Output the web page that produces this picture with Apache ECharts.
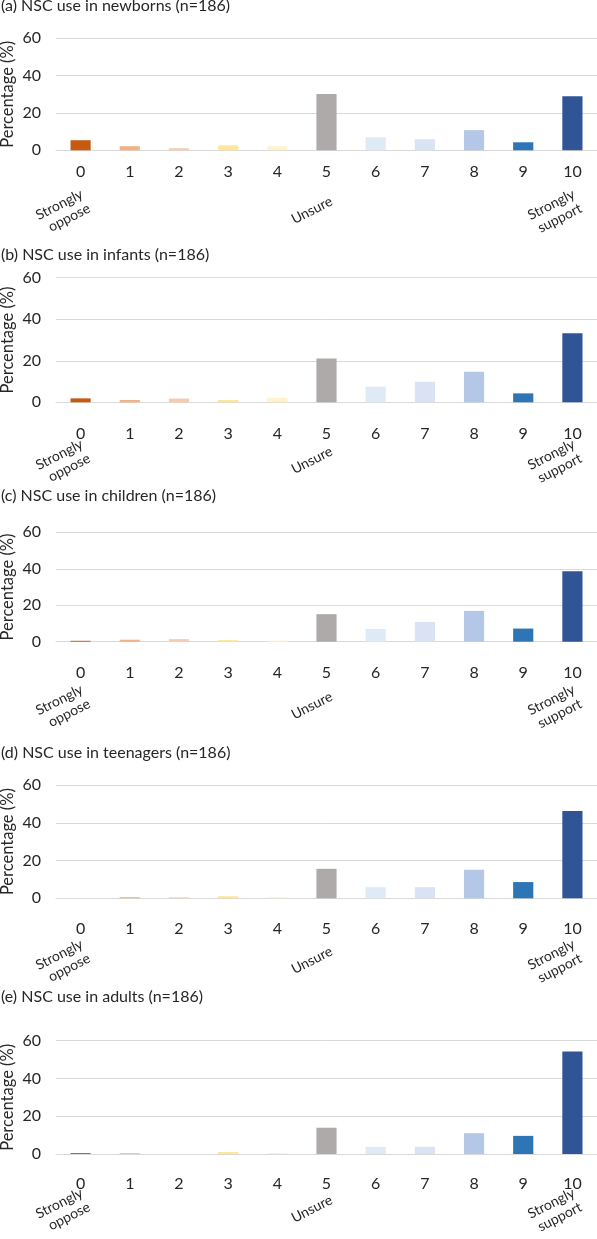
<!DOCTYPE html>
<html>
<head>
<meta charset="utf-8">
<title>NSC use by age group</title>
<script src="https://cdn.jsdelivr.net/npm/echarts@6/dist/echarts.min.js"></script>
<style>
  html, body { margin: 0; padding: 0; background: #fff; }
  #chart { width: 597px; height: 1239px; }
</style>
</head>
<body>
<div id="chart"></div>
<script>
// data (percent of n=186)
var categories = ['0', '1', '2', '3', '4', '5', '6', '7', '8', '9', '10'];
var scaleLabels = ['Strongly\noppose', '', '', '', '', 'Unsure', '', '', '', '', 'Strongly\nsupport'];
var yTicks = [0, 20, 40, 60];

var newborns  = [5.4, 2.2, 1.1, 2.7, 2.2, 30.1, 7.0, 5.9, 10.8, 4.3, 29.0];
var infants   = [1.9, 1.1, 1.8, 1.1, 2.2, 21.1, 7.5, 9.9, 14.7, 4.3, 33.3];
var children  = [0.5, 1.1, 1.4, 0.9, 0.6, 15.1, 7.0, 10.8, 16.9, 7.2, 38.7];
var teenagers = [0, 0.6, 0.5, 1.1, 0.6, 15.6, 5.9, 5.9, 15.1, 8.6, 46.2];
var adults    = [0.5, 0.4, 0, 1.1, 0.5, 13.9, 3.8, 3.8, 11.0, 9.6, 54.3];

var panelTitles = [
    '(a) NSC use in newborns (n=186)',
    '(b) NSC use in infants (n=186)',
    '(c) NSC use in children (n=186)',
    '(d) NSC use in teenagers (n=186)',
    '(e) NSC use in adults (n=186)'
];
var panelData = [newborns, infants, children, teenagers, adults];

// colours per score
var barColors = ['#C55A11', '#F4B183', '#F8CBAD', '#FFE699', '#FFF2CC', '#AEAAAA',
                 '#DEEBF7', '#DAE3F3', '#B4C7E7', '#2E75B6', '#2F5597'];

// layout of each panel
var gridTops     = [38.3, 277.7, 532.3, 785, 1040.7];
var gridHeights  = [112, 124.6, 109.4, 113.3, 113.3];
var titleCenters = [8.3, 256.7, 498.3, 755, 999];
var tickMargins  = [14, 24, 23, 23, 21.5];
var scaleOffsets = [50, 48, 54, 52, 45];   // px below the zero line

var fontFamily = 'Lato, "Open Sans", sans-serif';
var textColor = '#262626';

var myChart = echarts.init(document.getElementById('chart'));

var titles = [], grids = [], xAxes = [], yAxes = [], series = [];

panelTitles.forEach(function (t, i) {
    titles.push({
        text: t,
        left: 1,
        top: titleCenters[i] - 10,
        padding: 0,
        textStyle: { fontFamily: fontFamily, fontSize: 16, fontWeight: 'normal', color: textColor }
    });
    grids.push({
        left: 56, right: 0, top: gridTops[i], height: gridHeights[i],
        containLabel: false,
        outerBoundsMode: 'none'
    });

    xAxes.push({
        type: 'category',
        gridIndex: i,
        data: categories,
        axisLine: { lineStyle: { color: '#d9d9d9' } },
        axisTick: { show: false },
        axisLabel: { margin: tickMargins[i], fontFamily: fontFamily, fontSize: 16, color: textColor }
    });

    yAxes.push({
        type: 'value',
        gridIndex: i,
        min: yTicks[0],
        max: yTicks[yTicks.length - 1],
        interval: yTicks[1] - yTicks[0],
        name: 'Percentage (%)',
        nameLocation: 'middle',
        nameGap: 40,
        nameMoveOverlap: false,
        nameTextStyle: { fontFamily: fontFamily, fontSize: 16.5, color: textColor },
        axisLine: { show: false },
        axisTick: { show: false },
        axisLabel: { margin: 15, fontFamily: fontFamily, fontSize: 16, color: textColor },
        splitLine: { lineStyle: { color: '#d9d9d9' } }
    });

    series.push({
        type: 'bar',
        xAxisIndex: i,
        yAxisIndex: i,
        barWidth: '41%',
        data: panelData[i].map(function (v, k) {
            return { value: v, itemStyle: { color: barColors[k] } };
        })
    });
});

var option = {
    animation: false,
    title: titles,
    grid: grids,
    xAxis: xAxes,
    yAxis: yAxes,
    series: series
};

myChart.setOption(option);

// slanted scale anchors, placed from each panel's own axes
var graphics = [];
panelData.forEach(function (d, i) {
    var zeroY = myChart.convertToPixel({ yAxisIndex: i }, 0);
    scaleLabels.forEach(function (lab, k) {
        if (!lab) return;
        var x = myChart.convertToPixel({ xAxisIndex: i }, categories[k]);
        graphics.push({
            type: 'text',
            x: x + 5,
            y: zeroY + scaleOffsets[i],
            rotation: 27 * Math.PI / 180,
            style: {
                text: lab,
                align: 'right',
                verticalAlign: 'middle',
                fontFamily: fontFamily,
                fontSize: 14,
                lineHeight: 16,
                fill: textColor
            }
        });
    });
});
myChart.setOption({ graphic: graphics });
</script>
</body>
</html>
